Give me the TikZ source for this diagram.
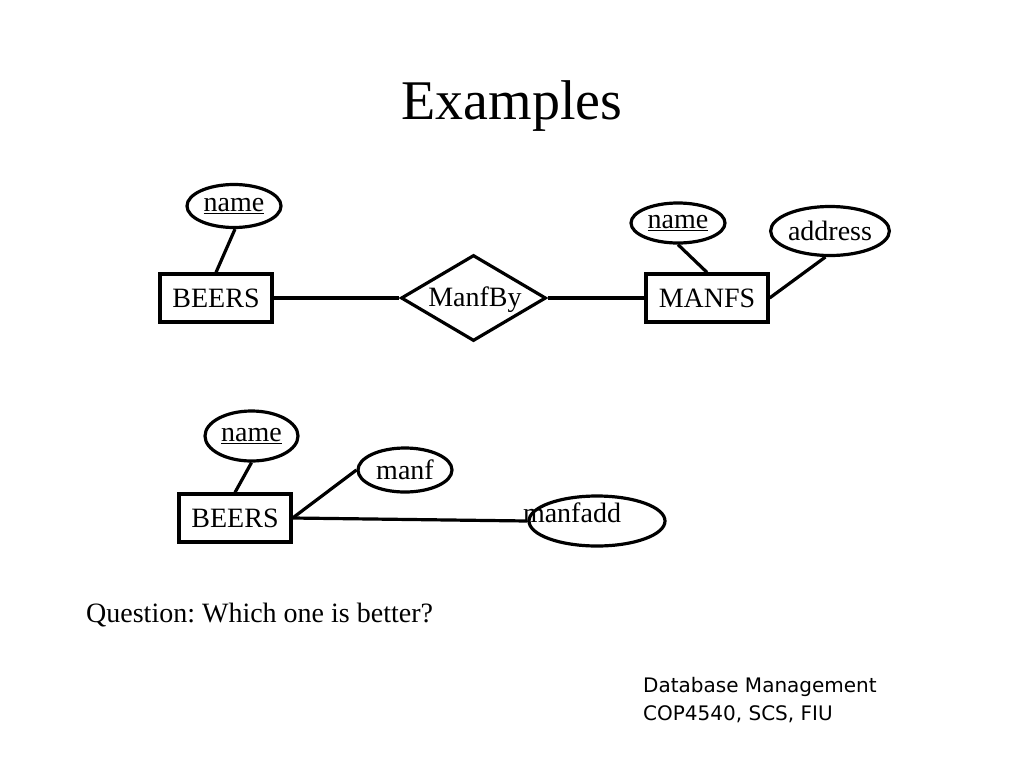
\documentclass[tikz,border=0pt]{standalone}
\usepackage{fontspec}
\setmainfont{Liberation Serif}
\newfontfamily\footfont{DejaVu Sans}
\usetikzlibrary{shapes.geometric}
\begin{document}
\begin{tikzpicture}[x=1pt,y=-1pt,
  every node/.style={font=\fontsize{28}{32}\selectfont, inner sep=0pt},
  conn/.style={line width=3.2pt},
  entity/.style={draw, line width=3.2pt, rectangle, anchor=center},
  attr/.style={draw, line width=3.2pt, ellipse, anchor=center},
  rel/.style={draw, line width=3.2pt, diamond, aspect=1.7, anchor=center}]
\useasboundingbox (0,0) rectangle (1024,768);
\node[font=\fontsize{56}{60}\selectfont] (title) at (512,106) {Examples};
% top diagram
\node[entity, minimum width=112pt, minimum height=48pt] (beers1) at (216,298) {BEERS};
\node[attr, minimum width=94pt, minimum height=43pt] (name1) at (234,206) {\underline{name}};
\node[rel, minimum width=145pt, minimum height=86pt] (manfby) at (473.5,298) {};
\node[anchor=base] (manfbylbl) at (475,306) {ManfBy};
\node[entity, minimum width=122pt, minimum height=48pt] (manfs) at (707,298) {MANFS};
\node[attr, minimum width=94pt, minimum height=40pt] (name2) at (678,223) {\underline{name}};
\node[attr, minimum width=111pt, minimum height=49pt] (addr) at (830,231) {address};
\draw[conn] (name1.south) ++(1,0) -- (beers1.north);
\draw[conn] (beers1.east) -- (manfby.west);
\draw[conn] (manfby.east) -- (manfs.west);
\draw[conn] (name2.south) -- (manfs.north);
\draw[conn] (addr.-100) -- (manfs.east);
% bottom diagram
\node[entity, minimum width=112pt, minimum height=48pt] (beers2) at (235,518) {BEERS};
\node[attr, minimum width=93pt, minimum height=50pt] (name3) at (251.5,436) {\underline{name}};
\node[attr, minimum width=94pt, minimum height=44pt] (manf) at (405,470) {manf};
\node[attr, minimum width=136pt, minimum height=50pt] (manfadd) at (597,521) {};
\node (manfaddlbl) at (572,513) {manfadd};
\draw[conn] (name3.south) -- (beers2.north);
\draw[conn] (beers2.east) -- (manf.west);
\draw[conn] (beers2.east) -- (manfadd.west);
% question
\node[anchor=west, font=\fontsize{28}{32}\selectfont\frenchspacing] (q) at (86,615) {Question: Which one is better?};
% footer
\node[anchor=north west, align=left, font=\footfont\fontsize{20}{28}\selectfont] (foot) at (643,677) {Database Management\\COP4540, SCS, FIU};
\end{tikzpicture}
\end{document}
